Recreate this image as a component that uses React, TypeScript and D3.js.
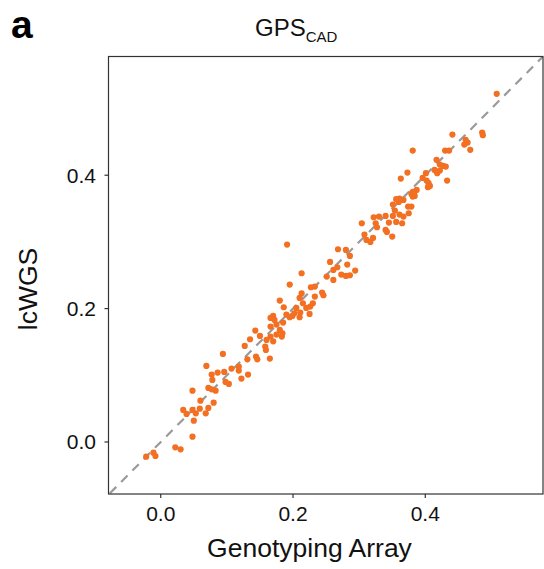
import React from "react";
import * as d3 from "d3";

// Genotyping array (x) and lcWGS (y) scores
const genotypingArray = [
  -0.022, -0.011, -0.008, 0.022, 0.030, 0.048, 0.050, 0.034, 0.039, 0.053,
  0.048, 0.059, 0.060, 0.068, 0.072, 0.080, 0.048, 0.072, 0.077, 0.083,
  0.069, 0.077, 0.078, 0.086, 0.096, 0.094, 0.098, 0.103, 0.107, 0.118,
  0.118, 0.122, 0.132, 0.127, 0.131, 0.135, 0.144, 0.146, 0.143, 0.150,
  0.158, 0.159, 0.160, 0.165, 0.166, 0.170, 0.175, 0.183, 0.184, 0.180,
  0.166, 0.175, 0.172, 0.185, 0.170, 0.180, 0.186, 0.166, 0.195, 0.199,
  0.202, 0.205, 0.210, 0.211, 0.210, 0.215, 0.220, 0.226, 0.230, 0.225,
  0.213, 0.195, 0.213, 0.227, 0.233, 0.233, 0.244, 0.246, 0.191, 0.251,
  0.261, 0.256, 0.261, 0.267, 0.268, 0.280, 0.286, 0.282, 0.273, 0.280,
  0.286, 0.294, 0.304, 0.308, 0.311, 0.317, 0.321, 0.322, 0.325, 0.327,
  0.330, 0.340, 0.340, 0.342, 0.345, 0.350, 0.351, 0.354, 0.351, 0.356,
  0.360, 0.361, 0.365, 0.367, 0.367, 0.374, 0.375, 0.379, 0.381, 0.383,
  0.387, 0.361, 0.356, 0.379, 0.384, 0.381, 0.404, 0.407, 0.405, 0.402,
  0.396, 0.363, 0.401, 0.373, 0.433, 0.414, 0.418, 0.422, 0.417, 0.422,
  0.427, 0.431, 0.381, 0.430, 0.436, 0.441, 0.459, 0.461, 0.464, 0.468,
  0.486, 0.487, 0.508, 0.190,
];
const lcWGS = [
  -0.022, -0.016, -0.021, -0.008, -0.011, 0.008, 0.032, 0.048, 0.042, 0.043,
  0.048, 0.050, 0.062, 0.043, 0.051, 0.059, 0.077, 0.081, 0.079, 0.077,
  0.114, 0.101, 0.093, 0.104, 0.105, 0.132, 0.090, 0.087, 0.110, 0.113,
  0.107, 0.095, 0.101, 0.144, 0.124, 0.154, 0.128, 0.124, 0.167, 0.159,
  0.143, 0.138, 0.153, 0.125, 0.158, 0.151, 0.161, 0.158, 0.163, 0.168,
  0.173, 0.176, 0.183, 0.179, 0.189, 0.212, 0.202, 0.186, 0.187, 0.189,
  0.193, 0.201, 0.187, 0.194, 0.216, 0.208, 0.201, 0.203, 0.208, 0.192,
  0.223, 0.236, 0.253, 0.232, 0.233, 0.218, 0.224, 0.220, 0.296, 0.248,
  0.243, 0.270, 0.258, 0.262, 0.289, 0.288, 0.279, 0.266, 0.251, 0.249,
  0.250, 0.257, 0.328, 0.311, 0.303, 0.300, 0.306, 0.337, 0.328, 0.322,
  0.338, 0.339, 0.318, 0.315, 0.329, 0.308, 0.356, 0.347, 0.339, 0.330,
  0.360, 0.341, 0.328, 0.338, 0.363, 0.353, 0.343, 0.353, 0.368, 0.374,
  0.378, 0.365, 0.364, 0.372, 0.369, 0.375, 0.382, 0.384, 0.388, 0.392,
  0.396, 0.395, 0.403, 0.404, 0.392, 0.408, 0.403, 0.407, 0.423, 0.416,
  0.414, 0.413, 0.437, 0.437, 0.437, 0.461, 0.446, 0.453, 0.449, 0.438,
  0.464, 0.460, 0.522, 0.191,
];

const xTicks = [0.0, 0.2, 0.4];
const yTicks = [0.0, 0.2, 0.4];
const xDomain = [-0.079, 0.578];
const yDomain = [-0.078, 0.578];

const panelLabel = "a";
const titleMain = "GPS";
const titleSub = "CAD";
const xTitle = "Genotyping Array";
const yTitle = "lcWGS";

export default function App() {
  const W = 544;
  const H = 569;
  const left = 108.5;
  const right = 543;
  const top = 56.5;
  const bottom = 494;
  const x = d3.scaleLinear().domain(xDomain).range([left, right]);
  const y = d3.scaleLinear().domain(yDomain).range([bottom, top]);
  const font = "'Liberation Sans', Arial, Helvetica, sans-serif";
  const lo = Math.max(xDomain[0], yDomain[0]);
  const hi = Math.min(xDomain[1], yDomain[1]);
  const line = d3.line<number>().x((d) => x(d)).y((d) => y(d));

  return (
    <svg
      width={W}
      height={H}
      style={{ position: "absolute", left: 0, top: 0, background: "#fff" }}
      fontFamily={font}
    >
      <rect x={0} y={0} width={W} height={H} fill="#fff" />
      <defs>
        <clipPath id="panel">
          <rect x={left} y={top} width={right - left} height={bottom - top} />
        </clipPath>
      </defs>
      <g clipPath="url(#panel)">
        <path
          d={line([lo - 0.05, hi + 0.05]) || ""}
          stroke="#9a9a9a"
          strokeWidth={2.2}
          strokeDasharray="9,7"
          fill="none"
        />
        {genotypingArray.map((gx, i) => (
          <circle key={i} cx={x(gx)} cy={y(lcWGS[i])} r={3.1} fill="#F36F21" />
        ))}
      </g>
      <rect
        x={left}
        y={top}
        width={right - left}
        height={bottom - top}
        fill="none"
        stroke="#333"
        strokeWidth={1.2}
      />
      {xTicks.map((t) => (
        <g key={"x" + t}>
          <line x1={x(t)} x2={x(t)} y1={bottom} y2={bottom + 4} stroke="#333" strokeWidth={1.2} />
          <text x={x(t)} y={520.5} textAnchor="middle" fontSize={21} fill="#111">
            {d3.format(".1f")(t)}
          </text>
        </g>
      ))}
      {yTicks.map((t) => (
        <g key={"y" + t}>
          <line x1={left - 4} x2={left} y1={y(t)} y2={y(t)} stroke="#333" strokeWidth={1.2} />
          <text x={96} y={y(t) + 7.5} textAnchor="end" fontSize={21} fill="#111">
            {d3.format(".1f")(t)}
          </text>
        </g>
      ))}
      <text x={309.5} y={557} textAnchor="middle" fontSize={26.5} fill="#111">
        {xTitle}
      </text>
      <text
        transform={`translate(${37},${289}) rotate(-90)`}
        textAnchor="middle"
        fontSize={26.5}
        fill="#111"
      >
        {yTitle}
      </text>
      <text x={255} y={36} fontSize={24} fill="#111">
        {titleMain}
        <tspan fontSize={15} dy={6}>{titleSub}</tspan>
      </text>
      <text x={11} y={38} fontSize={39} fontWeight="bold" fill="#000">
        {panelLabel}
      </text>
    </svg>
  );
}
